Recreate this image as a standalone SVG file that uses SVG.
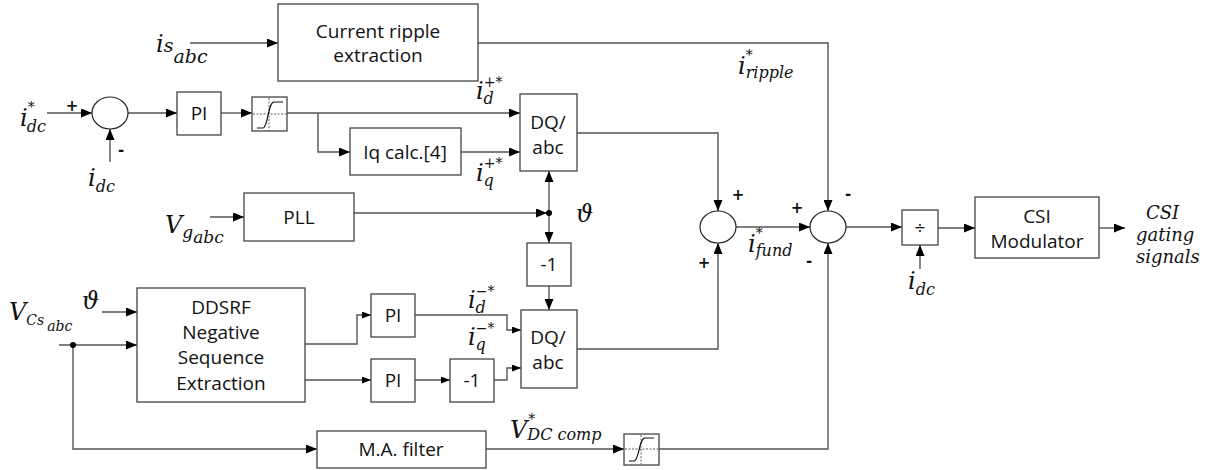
<svg xmlns="http://www.w3.org/2000/svg" width="1216" height="470" viewBox="0 0 1216 470">
<style>
.blk{fill:#fff;stroke:#444;stroke-width:1.3}
.sum{fill:#fff;stroke:#222;stroke-width:1.2}
.ln{fill:none;stroke:#555;stroke-width:1.4}
.a{marker-end:url(#ah)}
.s{marker-end:url(#ahs)}
.t{font-family:"Open Sans","DejaVu Sans",sans-serif;font-size:19px;fill:#111;text-anchor:middle}
.m{font-family:"DejaVu Serif","Liberation Serif",serif;font-style:italic;fill:#111;font-size:24px}
.sb{font-size:16px}
.sp{font-size:14px}
.sg{font-family:"DejaVu Sans",sans-serif;font-size:15px;font-weight:bold;fill:#111;text-anchor:middle}
.dot{fill:none;stroke:#333;stroke-width:0.8;stroke-dasharray:2,1.5}
</style>
<defs>
<marker id="ah" markerUnits="userSpaceOnUse" markerWidth="11" markerHeight="9" refX="11" refY="4.5" orient="auto"><path d="M0,0 L11,4.5 L0,9 z" fill="#000"/></marker>
<marker id="ahs" markerUnits="userSpaceOnUse" markerWidth="9" markerHeight="7" refX="9" refY="3.5" orient="auto"><path d="M0,0 L9,3.5 L0,7 z" fill="#000"/></marker>
</defs>

<g id="connectors">
<path class="ln a" d="M190,43 H278"/>
<path class="ln a" d="M478,43 H828 V211"/>
<path class="ln a" d="M47,113 H92"/>
<path class="ln a" d="M110,162 V129"/>
<path class="ln a" d="M128,113 H177"/>
<path class="ln a" d="M221,113 H252"/>
<path class="ln a" d="M287,113 H520"/>
<path class="ln a" d="M318,113 V152 H350"/>
<path class="ln a" d="M461,152 H520"/>
<path class="ln a" d="M577,133 H718 V211"/>
<path class="ln a" d="M210,217 H244"/>
<path class="ln a" d="M354,213 H547"/>
<path class="ln a" d="M549,213 V171"/>
<path class="ln a" d="M549,213 V243"/>
<path class="ln a" d="M549,286 V310"/>
<path class="ln a" d="M577,349 H718 V243"/>
<path class="ln a" d="M736,227 H810"/>
<path class="ln a" d="M846,227 H902"/>
<path class="ln a" d="M920,269 V245"/>
<path class="ln a" d="M938,228 H975"/>
<path class="ln a" d="M1099,228 H1125"/>
<path class="ln a" d="M102,312 H137"/>
<path class="ln a" d="M59,345 H137"/>
<path class="ln a" d="M73,345 V449 H317"/>
<path class="ln s" d="M305,344 H357 V315 H371"/>
<path class="ln s" d="M305,380 H371"/>
<path class="ln s" d="M415,315 H507 V330 H521"/>
<path class="ln s" d="M415,380 H450"/>
<path class="ln s" d="M494,380 H507 V368 H521"/>
<path class="ln a" d="M486,449 H624"/>
<path class="ln a" d="M659,449 H828 V243"/>
<circle cx="549" cy="213" r="3" fill="#000"/>
<circle cx="73" cy="345" r="3" fill="#000"/>
</g>

<g id="ripple"><rect class="blk" x="278" y="4" width="200" height="77"/><text class="t" x="378" y="38">Current ripple</text><text class="t" x="378" y="62">extraction</text></g>
<g id="sum0"><ellipse class="sum" cx="110" cy="113" rx="18" ry="16"/></g>
<g id="pi0"><rect class="blk" x="177" y="92" width="44" height="43"/><text class="t" x="199" y="120">PI</text></g>
<g id="sat0"><rect class="blk" x="252" y="97" width="35" height="34"/><path class="dot" d="M253,114 H286 M269,98 V130"/><path fill="none" stroke="#111" stroke-width="1.2" d="M257,128 H263 C268,128 268,102 274,102 H283"/></g>
<g id="iqcalc"><rect class="blk" x="350" y="128" width="111" height="47"/><text class="t" x="405" y="159">Iq calc.[4]</text></g>
<g id="dq1"><rect class="blk" x="520" y="94" width="57" height="77"/><text class="t" x="548" y="129">DQ/</text><text class="t" x="548" y="154">abc</text></g>
<g id="pll"><rect class="blk" x="244" y="193" width="110" height="48"/><text class="t" x="299" y="224">PLL</text></g>
<g id="neg1"><rect class="blk" x="527" y="243" width="44" height="43"/><text class="t" x="549" y="271">-1</text></g>
<g id="dq2"><rect class="blk" x="521" y="310" width="56" height="78"/><text class="t" x="548" y="344">DQ/</text><text class="t" x="548" y="369">abc</text></g>
<g id="ddsrf"><rect class="blk" x="137" y="288" width="168" height="114"/><text class="t" x="221" y="314">DDSRF</text><text class="t" x="221" y="339">Negative</text><text class="t" x="221" y="364">Sequence</text><text class="t" x="221" y="390">Extraction</text></g>
<g id="pi1"><rect class="blk" x="371" y="294" width="44" height="43"/><text class="t" x="393" y="322">PI</text></g>
<g id="pi2"><rect class="blk" x="371" y="359" width="44" height="43"/><text class="t" x="393" y="387">PI</text></g>
<g id="neg2"><rect class="blk" x="450" y="359" width="44" height="43"/><text class="t" x="472" y="387">-1</text></g>
<g id="mafilter"><rect class="blk" x="317" y="431" width="169" height="37"/><text class="t" x="401" y="456">M.A. filter</text></g>
<g id="sat1"><rect class="blk" x="624" y="434" width="35" height="31"/><path class="dot" d="M625,449 H658 M641,435 V464"/><path fill="none" stroke="#111" stroke-width="1.2" d="M629,461 H634 C639,461 639,438 645,438 H654"/></g>
<g id="sum1"><ellipse class="sum" cx="718" cy="227" rx="18" ry="16"/></g>
<g id="sum2"><ellipse class="sum" cx="828" cy="227" rx="18" ry="16"/></g>
<g id="div"><rect class="blk" x="902" y="210" width="36" height="35"/><text class="t" x="920" y="234">÷</text></g>
<g id="csi"><rect class="blk" x="975" y="197" width="124" height="61"/><text class="t" x="1037" y="223">CSI</text><text class="t" x="1037" y="248">Modulator</text></g>

<g id="labels">
<text class="m" x="156" y="52">i<tspan style="font-size:19px" dy="0">s</tspan><tspan style="font-size:19px" dy="11">abc</tspan></text>
<text class="m" x="20" y="126">i<tspan class="sp" dy="-14">*</tspan><tspan class="sb" dx="-8" dy="20">dc</tspan></text>
<text class="sg" x="72" y="111">+</text>
<text class="sg" x="121" y="155">-</text>
<text class="m" x="88" y="186">i<tspan class="sb" dy="6">dc</tspan></text>
<text class="m" x="476" y="99">i<tspan class="sp" dy="-12">+*</tspan><tspan class="sb" dx="-19" dy="17">d</tspan></text>
<text class="m" x="476" y="181">i<tspan class="sp" dy="-13">+*</tspan><tspan class="sb" dx="-19" dy="18">q</tspan></text>
<text class="m" x="165" y="233">V<tspan style="font-size:17px" dy="5">g</tspan><tspan style="font-size:17px" dy="5">abc</tspan></text>
<text class="m" x="576" y="222">ϑ</text>
<text class="m" x="82" y="309">ϑ</text>
<text class="m" x="9" y="320">V<tspan class="sb" style="font-size:14px" dy="5">Cs</tspan><tspan class="sb" style="font-size:14px" dx="3" dy="6">abc</tspan></text>
<text class="m" x="468" y="308">i<tspan class="sp" dy="-12">−*</tspan><tspan class="sb" dx="-19" dy="17">d</tspan></text>
<text class="m" x="468" y="345">i<tspan class="sp" dy="-12">−*</tspan><tspan class="sb" dx="-19" dy="17">q</tspan></text>
<text class="m" x="510" y="438">V<tspan class="sp" dx="1" dy="-14">*</tspan><tspan class="sb" dx="-8" dy="16">DC comp</tspan></text>
<text class="m" x="738" y="74">i<tspan class="sp" dy="-14">*</tspan><tspan class="sb" dx="-7" dy="18">ripple</tspan></text>
<text class="m" x="748" y="252">i<tspan class="sp" dy="-14">*</tspan><tspan class="sb" dx="-7" dy="18">fund</tspan></text>
<text class="m" x="908" y="289">i<tspan class="sb" dy="6">dc</tspan></text>
<text class="sg" x="738" y="200">+</text>
<text class="sg" x="704" y="268">+</text>
<text class="sg" x="797" y="213">+</text>
<text class="sg" x="848" y="199">-</text>
<text class="sg" x="809" y="266">-</text>
<text class="m" x="1146" y="219" style="font-size:18px">CSI</text>
<text class="m" x="1136" y="241" style="font-size:18px">gating</text>
<text class="m" x="1136" y="263" style="font-size:18px">signals</text>
</g>
</svg>
